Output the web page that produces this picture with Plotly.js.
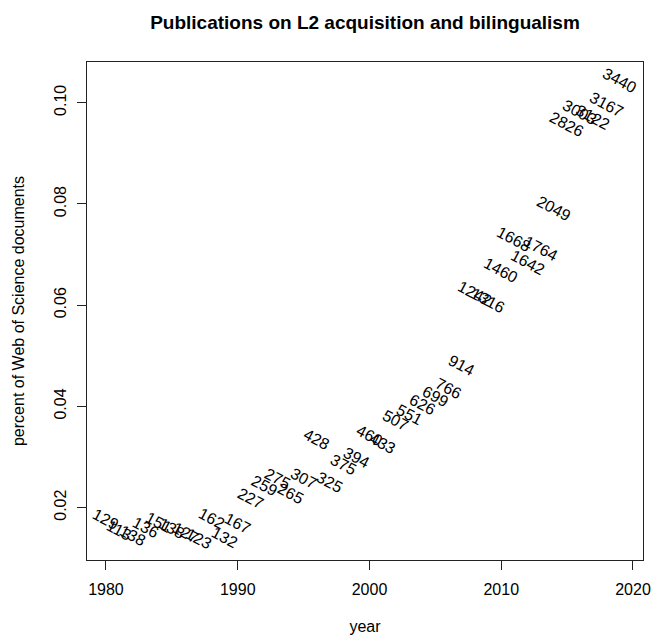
<!DOCTYPE html>
<html>
<head>
<meta charset="utf-8">
<script src="https://cdn.plot.ly/plotly-3.0.1.min.js"></script>
<style>html,body{margin:0;padding:0;background:#fff;}#chart{width:653px;height:635px;}</style>
</head>
<body>
<div id="chart"></div>
<script>
// Data
const years = [1980,1981,1982,1983,1984,1985,1986,1987,1988,1989,
               1990,1991,1992,1993,1994,1995,1996,1997,1998,1999,
               2000,2001,2002,2003,2004,2005,2006,2007,2008,2009,
               2010,2011,2012,2013,2014,2015,2016,2017,2018,2019];
const counts = [129,113,138,136,151,138,127,123,162,132,
                167,227,259,275,265,307,428,325,375,394,
                460,433,507,551,626,699,766,914,1242,1316,
                1460,1668,1642,1764,2049,2826,3003,3122,3167,3440];
const percent = [0.01756,0.01539,0.01440,0.01598,0.01697,0.01578,0.01499,0.01380,0.01776,0.01400,
                 0.01677,0.02172,0.02430,0.02568,0.02271,0.02568,0.03341,0.02489,0.02846,0.02984,
                 0.03420,0.03261,0.03717,0.03836,0.04034,0.04192,0.04350,0.04806,0.06232,0.06093,
                 0.06687,0.07301,0.06846,0.07123,0.07915,0.09578,0.09816,0.09717,0.09974,0.10450];
const xTicks = [1980,1990,2000,2010,2020];
const yTicks = [0.02,0.04,0.06,0.08,0.10];
const yTickText = ["0.02","0.04","0.06","0.08","0.10"];

const FONT = "Liberation Sans, Arial, Helvetica, sans-serif";

const trace = {
  x: years, y: percent, type: "scatter", mode: "markers",
  marker: {size: 1, opacity: 0}, hoverinfo: "skip", showlegend: false
};

const labels = years.map((yr, i) => ({
  x: yr, y: percent[i], xref: "x", yref: "y",
  text: String(counts[i]), showarrow: false,
  xanchor: "center", yanchor: "middle", textangle: 28,
  font: {family: FONT, size: 16, color: "#000"}
}));

const axisCommon = {
  showgrid: false, zeroline: false, showline: true, mirror: true,
  linecolor: "#222", linewidth: 1, ticks: "outside", ticklen: 9,
  tickcolor: "#222", tickwidth: 1,
  tickfont: {family: FONT, size: 16, color: "#000"}
};

const layout = {
  width: 653, height: 635,
  margin: {l: 87, r: 10, t: 62, b: 75},
  paper_bgcolor: "#fff", plot_bgcolor: "#fff",
  font: {family: FONT, color: "#000"},
  title: {
    text: "<b>Publications on L2 acquisition and bilingualism</b>",
    font: {family: FONT, size: 19, color: "#000"},
    x: 0.5, xref: "paper", xanchor: "center",
    y: 1 - 22/635, yref: "container", yanchor: "middle"
  },
  xaxis: Object.assign({}, axisCommon, {
    range: [1978.56, 2020.76], tickvals: xTicks, ticktext: xTicks.map(String),
    ticklabelstandoff: 6,
    title: {text: "year", font: {family: FONT, size: 16, color: "#000"}, standoff: 24}
  }),
  yaxis: Object.assign({}, axisCommon, {
    range: [0.00964, 0.10806], tickvals: yTicks, ticktext: yTickText,
    tickangle: -90, ticklabelstandoff: 5,
    title: {text: "percent of Web of Science documents", font: {family: FONT, size: 16, color: "#000"}, standoff: 22}
  }),
  annotations: labels
};

Plotly.newPlot("chart", [trace], layout, {displayModeBar: false, staticPlot: true});
</script>
</body>
</html>
